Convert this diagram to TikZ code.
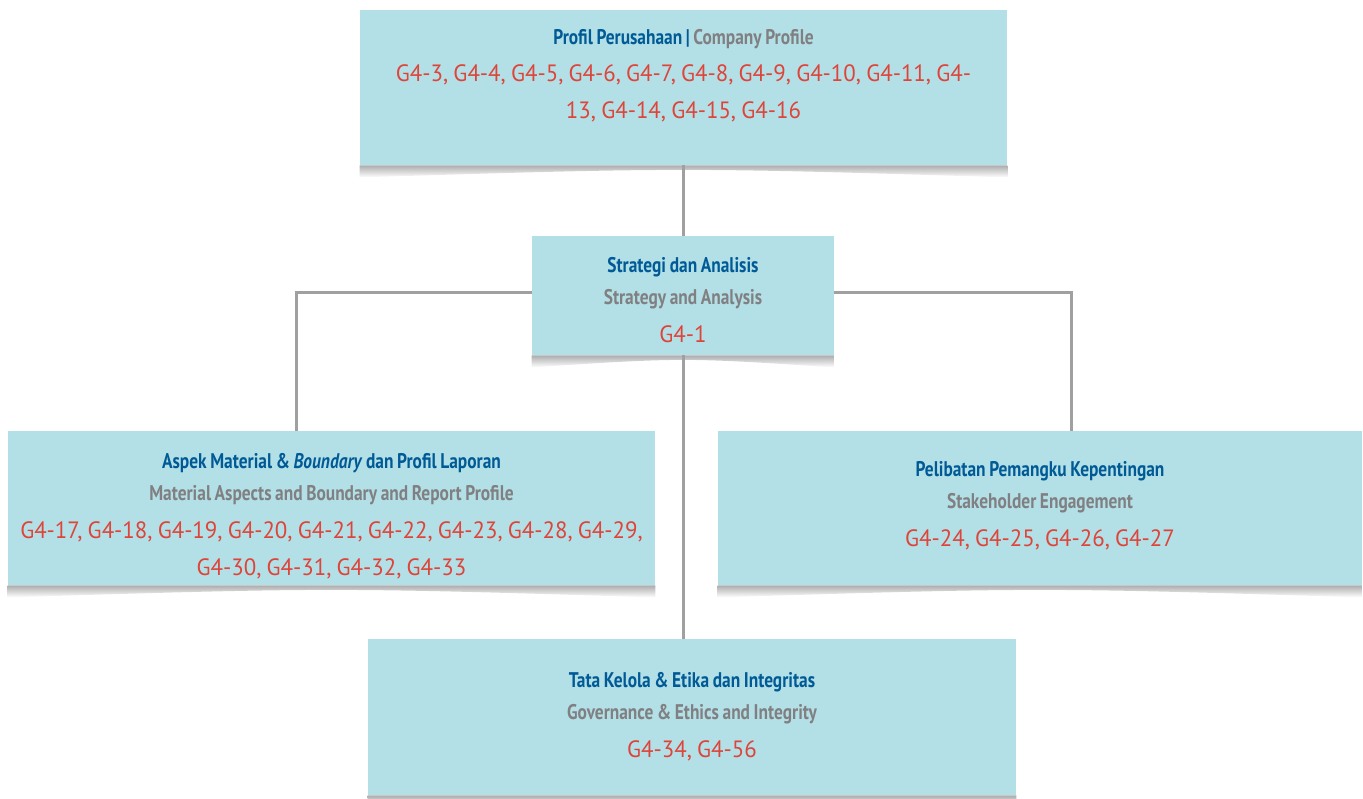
\documentclass[tikz,border=0pt]{standalone}
\usepackage{fontspec}
\setmainfont[FakeStretch=0.97]{PT Sans}
\newfontfamily\headfont[FakeStretch=0.82]{PT Sans}
\usetikzlibrary{positioning}

\definecolor{boxcyan}{RGB}{179,224,230}
\definecolor{titleblue}{RGB}{0,90,150}
\definecolor{subgray}{RGB}{128,128,130}
\definecolor{codered}{RGB}{222,68,58}
\definecolor{linegray}{RGB}{160,160,160}

\newcommand{\ttl}[1]{{\headfont\bfseries\fontsize{10.6}{18.5}\selectfont\spaceskip=0.17em\relax\color{titleblue}#1}}
\newcommand{\sub}[1]{{\headfont\bfseries\fontsize{10.6}{18.5}\selectfont\spaceskip=0.17em\relax\color{subgray}#1}}

\begin{document}
\begin{tikzpicture}[
    x=0.5pt, y=-0.5pt,
    box/.style = {fill=boxcyan, inner sep=0pt, minimum width=323.5pt, minimum height=77.5pt},
    txt/.style = {align=center, text width=330pt, inner sep=0pt, anchor=base,
                  text=codered, font=\fontsize{11.8}{18.5}\selectfont,
                  execute at begin node={\spaceskip=0.22em\relax}},
    conn/.style = {draw=linegray, line width=1.5pt},
    shadow/.style = {top color=black!32, bottom color=white}
  ]
  \useasboundingbox (0,0) rectangle (1363,798);

  % Boxes
  \node[box] (profil) at (683.5,87.5) {};
  \node[box, minimum width=151pt, minimum height=59.5pt] (strategi) at (683,295.5) {};
  \node[box, minimum height=77pt] (aspek) at (331.5,508) {};
  \node[box, minimum width=322pt, minimum height=77pt] (pelibatan) at (1040,508) {};
  \node[box, minimum width=324pt, minimum height=78pt] (tata) at (692,717) {};

  % Shadows under the boxes
  \foreach \b in {profil, strategi, aspek, pelibatan, tata}
    \shade[shadow] (\b.south west) -- ([yshift=-6pt]\b.south west)
      .. controls ([yshift=-1pt]\b.south) .. ([yshift=-6pt]\b.south east)
      -- (\b.south east) -- cycle;

  % Connectors
  \draw[conn] (profil.south) -- (profil.south |- strategi.north);
  \draw[conn] (strategi.south) -- (strategi.south |- tata.north);
  \draw[conn] ([yshift=1.75pt]strategi.west) -| (aspek.north -| 296,0);
  \draw[conn] ([yshift=1.75pt]strategi.east) -| (pelibatan.north -| 1071,0);

  % Texts
  \node[txt] (profil-txt) at (683.5,44) {%
    \ttl{Profil Perusahaan | }\sub{Company Profile}\\
    G4-3, G4-4, G4-5, G4-6, G4-7, G4-8, G4-9, G4-10, G4-11, G4-\\
    13, G4-14, G4-15, G4-16};
  \node[txt] (strategi-txt) at (683,272.5) {%
    \ttl{Strategi dan Analisis}\\[-2.5pt]
    \sub{Strategy and Analysis}\\[0.5pt]
    G4-1};
  \node[txt] (aspek-txt) at (331.5,468) {%
    \ttl{Aspek Material \& \textit{Boundary} dan Profil Laporan}\\[-2.5pt]
    \sub{Material Aspects and Boundary and Report Profile}\\[0.5pt]
    G4-17, G4-18, G4-19, G4-20, G4-21, G4-22, G4-23, G4-28, G4-29,\\
    G4-30, G4-31, G4-32, G4-33};
  \node[txt] (pelibatan-txt) at (1040,476) {%
    \ttl{Pelibatan Pemangku Kepentingan}\\[-2.5pt]
    \sub{Stakeholder Engagement}\\[0.5pt]
    G4-24, G4-25, G4-26, G4-27};
  \node[txt] (tata-txt) at (692,687) {%
    \ttl{Tata Kelola \& Etika dan Integritas}\\[-2.5pt]
    \sub{Governance \& Ethics and Integrity}\\[0.5pt]
    G4-34, G4-56};
\end{tikzpicture}
\end{document}
